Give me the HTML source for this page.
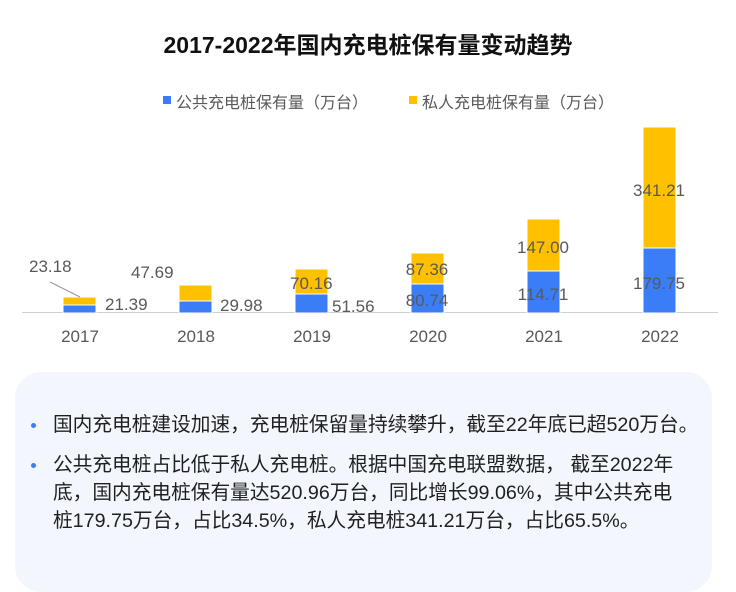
<!DOCTYPE html>
<html><head><meta charset="utf-8"><style>
body{margin:0;width:736px;height:567px;background:#fff;overflow:hidden;position:relative;font-family:"Liberation Sans","Noto Sans CJK SC",sans-serif}
.t{position:absolute;white-space:nowrap}
.box{position:absolute;left:15px;top:372px;width:697px;height:220px;background:#f3f7fd;border-radius:26px}
.p{position:absolute;left:53px;font-size:19.7px;color:#1f1f1f;line-height:28px;width:660px;white-space:nowrap}
.dot{position:absolute;left:31px;width:5px;height:5px;border-radius:50%;background:#3b7cf5}
</style></head><body>
<div class="t" style="left:0;width:736px;text-align:center;top:26px;font-size:23px;font-weight:bold;color:#111">2017-2022年国内充电桩保有量变动趋势</div>
<div class="t" style="left:163px;top:96px;width:8px;height:8px;background:#3b7cf5"></div>
<div class="t" style="left:176px;top:89px;font-size:16px;color:#595959">公共充电桩保有量（万台）</div>
<div class="t" style="left:409px;top:96px;width:8px;height:8px;background:#ffc000"></div>
<div class="t" style="left:422px;top:89px;font-size:16px;color:#595959">私人充电桩保有量（万台）</div>
<svg class="t" style="left:0;top:0" width="736" height="370">
<line x1="22" y1="312.5" x2="718" y2="312.5" stroke="#d0d0d0" stroke-width="1"/>
<g fill="#3a7df6" stroke="#fff" stroke-width="1">
<rect x="63" y="305" width="33" height="8"/>
<rect x="179" y="301" width="33" height="12"/>
<rect x="295" y="294" width="33" height="19"/>
<rect x="411" y="284" width="33" height="29"/>
<rect x="527" y="271" width="33" height="42"/>
<rect x="643" y="248" width="33" height="65"/>
</g>
<g fill="#ffc000" stroke="#fff" stroke-width="1">
<rect x="63" y="297" width="33" height="8"/>
<rect x="179" y="285" width="33" height="16"/>
<rect x="295" y="269" width="33" height="25"/>
<rect x="411" y="253" width="33" height="31"/>
<rect x="527" y="219" width="33" height="52"/>
<rect x="643" y="127" width="33" height="121"/>
</g>
<line x1="50" y1="282" x2="80" y2="297" stroke="#999" stroke-width="1"/>
<g font-family="Liberation Sans, sans-serif" font-size="17" fill="#595959">
<text x="29" y="272">23.18</text>
<text x="105" y="310">21.39</text>
<text x="131" y="278">47.69</text>
<text x="220" y="311">29.98</text>
<text x="290" y="289">70.16</text>
<text x="332" y="312">51.56</text>
<g text-anchor="middle">
<text x="427" y="275">87.36</text>
<text x="427" y="306">80.74</text>
<text x="543" y="253">147.00</text>
<text x="543" y="300">114.71</text>
<text x="659" y="196">341.21</text>
<text x="659" y="289">179.75</text>
<text x="80" y="342">2017</text>
<text x="196" y="342">2018</text>
<text x="312" y="342">2019</text>
<text x="428" y="342">2020</text>
<text x="544" y="342">2021</text>
<text x="660" y="342">2022</text>
</g></g>
</svg>
<div class="box"></div>
<div class="dot" style="top:423px"></div>
<div class="p" style="top:411px">国内充电桩建设加速，充电桩保留量持续攀升，截至22年底已超520万台。</div>
<div class="dot" style="top:463px"></div>
<div class="p" style="top:451px">公共充电桩占比低于私人充电桩。根据中国充电联盟数据， 截至2022年<br>底，国内充电桩保有量达520.96万台，同比增长99.06%，其中公共充电<br>桩179.75万台，占比34.5%，私人充电桩341.21万台，占比65.5%。</div>
</body></html>
